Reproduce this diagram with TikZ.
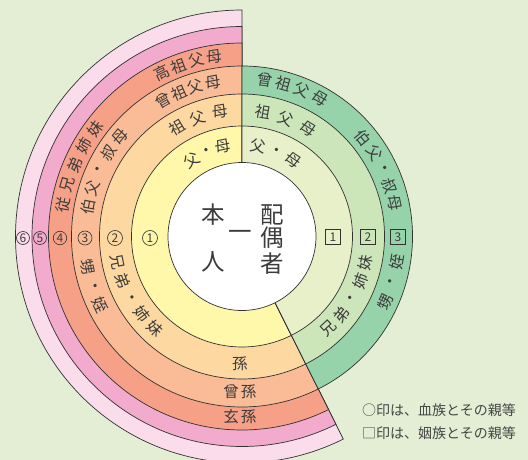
\documentclass[tikz,border=0pt]{standalone}
\usepackage{fontspec}
\setmainfont{Noto Sans CJK JP}
\definecolor{bg}{RGB}{227,238,212}
\definecolor{cyel}{RGB}{255,248,170}
\definecolor{clor}{RGB}{253,216,160}
\definecolor{cor}{RGB}{250,188,150}
\definecolor{csal}{RGB}{245,160,135}
\definecolor{cpk}{RGB}{242,170,205}
\definecolor{clpk}{RGB}{250,220,235}
\definecolor{cgA}{RGB}{231,240,200}
\definecolor{cgB}{RGB}{205,230,185}
\definecolor{cgC}{RGB}{150,210,170}
\definecolor{ink}{RGB}{50,50,50}
\definecolor{txtink}{RGB}{60,60,60}
\definecolor{legendink}{RGB}{70,70,70}
\tikzset{
  ring/.style={draw=ink, line width=0.7pt},
  lbl/.style={text=txtink, inner sep=0pt, font=\fontsize{15.5}{15.5}\selectfont},
  bigc/.style={text=txtink, inner sep=0pt, font=\fontsize{23.5}{23.5}\selectfont},
  cnum/.style={circle, draw=ink, line width=0.6pt, inner sep=0pt, text=txtink, font=\fontsize{12}{12}\selectfont},
  bnum/.style={rectangle, draw=ink, line width=0.6pt, inner sep=0pt, minimum size=15.5pt, text=txtink, font=\fontsize{12}{12}\selectfont},
  legend/.style={text=legendink, inner sep=0pt, anchor=west, font=\fontsize{14}{14}\selectfont}
}
\newcommand\arctext[6]{%
  \foreach \ch [count=\i from 0] in {#6} {%
    \pgfmathsetmacro\ang{#2+\i*(#3)}%
    \node[lbl, rotate=\ang+#4] (#5-\i) at (\ang:#1) {\ch};
  }}
\begin{document}
\begin{tikzpicture}[x=1pt,y=1pt]
\useasboundingbox (-242,-223.5) rectangle (286,236.5);
\fill[bg] (-242,-223.5) rectangle (286,236.5);
\def\A{296.565}
% blood relatives side
\foreach \r/\c in {226.5/clpk,210/cpk,193.5/csal,170.5/cor,142.5/clor,110.5/cyel}
  \filldraw[fill=\c, ring] (0,0) -- (90:\r) arc[start angle=90, end angle=\A, radius=\r] -- cycle;
% in-law side
\foreach \r/\c in {170.5/cgC,142.5/cgB,110.5/cgA}
  \filldraw[fill=\c, ring] (0,0) -- (\A-360:\r) arc[start angle=\A-360, end angle=90, radius=\r] -- cycle;
\filldraw[fill=white, ring] (0,0) circle[radius=74];
% centre
\node[bigc] (hon) at (-29,21.5) {本};
\node[bigc] (ichi) at (-2,1.5) {一};
\node[bigc] (nin) at (-29,-25.5) {人};
\node[bigc] (hai) at (30,21.5) {配};
\node[bigc] (guu) at (30,-1.5) {偶};
\node[bigc] (sha) at (30,-27.5) {者};
% left labels
\arctext{91.5}{123.2}{-10.6}{-90}{lA}{父,・,母}
\arctext{126.5}{120.9}{-10.45}{-90}{lB}{祖,父,母}
\arctext{157}{120}{-6.4}{-90}{lC}{曾,祖,父,母}
\arctext{182}{116.1}{-5.8}{-90}{lD}{高,祖,父,母}
\arctext{157}{169.2}{-7.1}{-90}{lE}{伯,父,・,叔,母}
\arctext{182}{170}{-6.6}{-90}{lF}{従,兄,弟,姉,妹}
\arctext{127}{191.4}{8.8}{90}{lG}{兄,弟,・,姉,妹}
\arctext{157}{191.2}{7.3}{90}{lH}{甥,・,姪}
% right labels
\arctext{91.5}{79.9}{-11.8}{-90}{rA}{父,・,母}
\arctext{126}{80.4}{-10.9}{-90}{rB}{祖,父,母}
\arctext{158}{81.6}{-7}{-90}{rC}{曾,祖,父,母}
\arctext{156.5}{39.1}{-6.7}{-90}{rD}{伯,父,・,叔,母}
\arctext{126.5}{-46.8}{8.7}{90}{rE}{兄,弟,・,姉,妹}
\arctext{157.5}{-24.6}{7.65}{90}{rF}{甥,・,姪}
% bottom labels
\node[lbl] (mago) at (-2,-126.8) {孫};
\node[lbl] (himago) at (-2,-155.5) {曾\hspace{2pt}孫};
\node[lbl] (yasha) at (-2,-180) {玄\hspace{2pt}孫};
% degree marks
\node[cnum, minimum size=15pt] (c1) at (-92,-1.5) {1};
\node[cnum, minimum size=15pt] (c2) at (-127,-1.5) {2};
\node[cnum, minimum size=14pt] (c3) at (-157,-1.5) {3};
\node[cnum, minimum size=13.5pt] (c4) at (-182,-1.5) {4};
\node[cnum, minimum size=13pt] (c5) at (-202,-1.5) {5};
\node[cnum, minimum size=13pt] (c6) at (-219,-1.5) {6};
\node[bnum] (b1) at (91,-0.5) {1};
\node[bnum] (b2) at (126,-0.5) {2};
\node[bnum] (b3) at (156,-0.5) {3};
% legend
\node[legend] (lg1) at (120,-173.5) {○印は、血族とその親等};
\node[legend] (lg2) at (120,-196.5) {□印は、姻族とその親等};
\end{tikzpicture}
\end{document}
